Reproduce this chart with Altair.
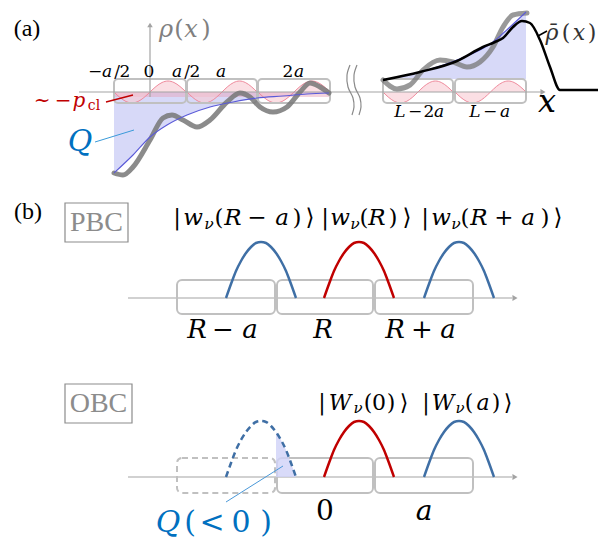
import altair as alt
import pandas as pd

W, H = 591, 534
XS = alt.Scale(domain=[8, 599], nice=False, zero=False)
YS = alt.Scale(domain=[8, 542], nice=False, zero=False, reverse=True)
MATH = "DejaVu Serif"
SERIF = "Liberation Serif"

AX_GRAY = "#a3a3a3"
BOX_GRAY = "#c0c0c0"
RED = "#c00000"
WBLUE = "#3f6fa5"
QBLUE = "#0070c0"
FILL_BLUE = "#c9ccf6"
PINK_LINE = "#ef8a9c"
PINK_FILL = "#f9c9d2"

# ---------------- panel (a) data ----------------
AXIS_A_Y = 92
AXIS_A_X = [79, 541]
RHO_AXIS_X = 150
RHO_AXIS_Y = [97, 27]
CELLS_A_X0 = [114, 187, 258, 383, 455]
CELLS_A_X1 = [186, 257, 330, 453, 526]
CELL_A_TOP, CELL_A_BOT = 79, 103
# one oscillation per cell: position fraction and displacement (px, + = downwards)
OSC_F = [0, 0.083, 0.167, 0.25, 0.333, 0.417, 0.5, 0.583, 0.667, 0.75, 0.833, 0.917, 1]
OSC_D = [0, 5.5, 9.5, 11, 9.5, 5.5, 0, -5.5, -9.5, -11, -9.5, -5.5, 0]
PCL_BAND = [114, 330, 92, 97]

RHO_L_X = [114, 123, 133, 150, 163, 172, 183, 197, 210, 227, 240, 250, 260, 273, 287, 300, 310, 320, 329]
RHO_L_Y = [173, 175, 167, 140, 118, 115, 120, 127, 120, 102, 93, 97, 107, 112, 107, 92, 83, 87, 93]
ENV_L_X = [114, 133, 150, 167, 187, 210, 233, 257, 283, 307, 329]
ENV_L_Y = [173, 155, 137, 125, 115, 107, 102, 98, 96, 94, 93]

RHO_R_X = [383, 397, 410, 423, 440, 453, 467, 480, 493, 503, 513, 527]
RHO_R_Y = [80, 89, 85, 70, 60, 62, 67, 62, 47, 27, 15, 13]
ENV_R_X = [383, 420, 457, 493, 510, 526]
ENV_R_Y = [80, 72, 60, 42, 27, 12]
ENV_R_BASE = 79
BAR_X = [383, 420, 457, 483, 495, 503, 513, 522, 530, 540, 550, 560, 598]
BAR_Y = [80, 72, 61, 47, 42, 38, 27, 21, 23, 40, 67, 90, 90]

BREAK_X = [350, 347, 348, 353, 354, 352]
BREAK_Y = [65, 75, 87, 98, 107, 115]
BREAK_SHIFT = [0, 7]

# ---------------- panel (b) data ----------------
AXIS_PBC_Y = 298
AXIS_OBC_Y = 477
AXIS_B_X = [128, 512]
CELLS_B_X0 = [177, 277, 375]
CELLS_B_X1 = [275, 373, 473]
CELL_PBC = [280, 314]
CELL_OBC = [458, 493]
ARCH_DX = [0, 5, 10, 15, 20, 25, 30, 35, 40, 45, 50, 55, 60, 65, 70]
ARCH_H = [0, 14, 27, 37, 45, 51, 55, 56, 55, 51, 45, 37, 27, 14, 0]
ARCH_X0 = [226, 324, 424]
ARCH_COL = [WBLUE, RED, WBLUE]

# ---------------- text ----------------
# (glyph, x, kind) kind: n normal, i italic, s subscript italic
LAB_RHO = [("ρ", 166, "i"), ("(", 179, "n"), ("x", 191, "i"), (")", 206, "n")]
LAB_TICKS = [("−", 95, "n"), ("a", 107, "i"), ("/", 117, "n"), ("2", 125, "n"), ("0", 149, "n"),
             ("a", 177, "i"), ("/", 187, "n"), ("2", 195, "n"), ("a", 221, "i"), ("2", 288, "n"), ("a", 299, "i")]
LAB_TICKS_R = [("L", 400, "i"), ("−", 415, "n"), ("2", 429, "n"), ("a", 439, "i"),
               ("L", 475, "i"), ("−", 490, "n"), ("a", 505, "i")]
LAB_BAR = [("ρ̄", 552, "i"), ("(", 566, "n"), ("x", 579, "i"), (")", 592, "n")]
LAB_PCL = [("~", 42, "n"), ("−", 63, "n"), ("p", 79, "i")]
LAB_W1 = [("|", 177, "n"), ("w", 193, "i"), ("ν", 209, "s"), ("(", 219, "n"), ("R", 233, "i"),
          ("−", 257, "n"), ("a", 282, "i"), (")", 297, "n"), ("⟩", 310, "n")]
LAB_W2 = [("|", 325, "n"), ("w", 340, "i"), ("ν", 355, "s"), ("(", 364, "n"), ("R", 377, "i"),
          (")", 393, "n"), ("⟩", 407, "n")]
LAB_W3 = [("|", 425, "n"), ("w", 441, "i"), ("ν", 456, "s"), ("(", 465, "n"), ("R", 479, "i"),
          ("+", 504, "n"), ("a", 528, "i"), (")", 545, "n"), ("⟩", 558, "n")]
LAB_PBC_BOT = [("R", 197, "i"), ("−", 223, "n"), ("a", 250, "i"), ("R", 323, "i"),
               ("R", 395, "i"), ("+", 422, "n"), ("a", 448, "i")]
LAB_V1 = [("|", 322, "n"), ("W", 340, "i"), ("ν", 358, "s"), ("(", 368, "n"), ("0", 379, "n"),
          (")", 391, "n"), ("⟩", 404, "n")]
LAB_V2 = [("|", 426, "n"), ("W", 443, "i"), ("ν", 460, "s"), ("(", 469, "n"), ("a", 483, "i"),
          (")", 496, "n"), ("⟩", 508, "n")]
LAB_OBC_BOT = [("0", 325, "n"), ("a", 424, "i")]
LAB_Q0 = [("Q", 168, "i"), ("(", 190, "n"), ("<", 212, "n"), ("0", 241, "n"), (")", 266, "n")]


def X(f="x"):
    return alt.X(f"{f}:Q", scale=XS, axis=None)


def Y(f="y"):
    return alt.Y(f"{f}:Q", scale=YS, axis=None)


layers = []


def line(xs, ys, color, width, dash=None, interp="monotone", opacity=1.0, ordered=False, cap="butt"):
    df = pd.DataFrame({"x": xs, "y": ys, "i": list(range(len(xs)))})
    kw = dict(color=color, strokeWidth=width, interpolate=interp, opacity=opacity, strokeCap=cap)
    if dash:
        kw["strokeDash"] = dash
    enc = dict(x=X(), y=Y())
    if ordered:
        enc["order"] = alt.Order("i:Q")
    layers.append(alt.Chart(df).mark_line(**kw).encode(**enc))


def area(xs, ys, y2s, color, opacity, interp="monotone"):
    df = pd.DataFrame({"x": xs, "y": ys, "y2": y2s})
    layers.append(alt.Chart(df).mark_area(color=color, opacity=opacity, interpolate=interp)
                  .encode(x=X(), y=Y(), y2=alt.Y2("y2:Q")))


def rects(x0, x1, y0, y1, stroke, width, dash=None, radius=4, fill="white", fillop=0.0):
    df = pd.DataFrame({"x": x0, "x2": x1, "y": y0, "y2": y1})
    kw = dict(fill=fill, fillOpacity=fillop, stroke=stroke, strokeWidth=width, cornerRadius=radius)
    if dash:
        kw["strokeDash"] = dash
    layers.append(alt.Chart(df).mark_rect(**kw)
                  .encode(x=X(), x2=alt.X2("x2:Q"), y=Y(), y2=alt.Y2("y2:Q")))


def arrow(x, y, shape, size=40):
    df = pd.DataFrame({"x": [x], "y": [y]})
    layers.append(alt.Chart(df).mark_point(shape=shape, filled=True, size=size, color=AX_GRAY, opacity=1)
                  .encode(x=X(), y=Y()))


glyph_rows = []


def label(glyphs, y, size, color, font=MATH, sub_dy=6):
    for g, x, k in glyphs:
        if k == "s":
            glyph_rows.append(dict(t=g, x=x, y=y + sub_dy, sz=size * 0.68, col=color, font=font, it=True))
        else:
            glyph_rows.append(dict(t=g, x=x, y=y, sz=size, col=color, font=font, it=(k == "i")))


# ---------- panel (a) ----------
area(ENV_L_X, ENV_L_Y, [AXIS_A_Y] * len(ENV_L_X), FILL_BLUE, 0.75)
area(ENV_R_X, ENV_R_Y, [ENV_R_BASE] * len(ENV_R_X), FILL_BLUE, 0.75)
rects([PCL_BAND[0]], [PCL_BAND[1]], [PCL_BAND[2]], [PCL_BAND[3]], "white", 0, radius=0,
      fill="#e7a0b6", fillop=0.45)
for x0, x1 in zip(CELLS_A_X0, CELLS_A_X1):
    xs = [x0 + f * (x1 - x0) for f in OSC_F]
    ys = [AXIS_A_Y + d for d in OSC_D]
    area(xs, ys, [AXIS_A_Y] * len(xs), PINK_FILL, 0.6)
    line(xs, ys, PINK_LINE, 1.0)
rects(CELLS_A_X0, CELLS_A_X1, [CELL_A_TOP] * 5, [CELL_A_BOT] * 5, BOX_GRAY, 2)
line(AXIS_A_X, [AXIS_A_Y, AXIS_A_Y], AX_GRAY, 1.2, interp="linear")
arrow(AXIS_A_X[1] + 2, AXIS_A_Y, "triangle-right", 35)
line([RHO_AXIS_X, RHO_AXIS_X], RHO_AXIS_Y, AX_GRAY, 1.2, interp="linear", ordered=True)
arrow(RHO_AXIS_X, RHO_AXIS_Y[1] - 2, "triangle-up", 30)
line(RHO_L_X, RHO_L_Y, "#777777", 5, opacity=0.85, cap="round")
line(RHO_R_X, RHO_R_Y, "#777777", 5, opacity=0.75, cap="round")
line(ENV_L_X, ENV_L_Y, "#5a5ad8", 1.1)
line(ENV_R_X, ENV_R_Y, "#5a5ad8", 1.1)
line(BAR_X, BAR_Y, "#000000", 2.5)
for s in BREAK_SHIFT:
    line([x + s for x in BREAK_X], BREAK_Y, "#8a8a8a", 1.2, interp="catmull-rom", ordered=True)
# pointers
line([106, 133], [102, 95], RED, 1.3, interp="linear")
line([95, 134], [142, 130], "#3a9ad9", 1.0, interp="linear")
line([538, 547], [36, 31], "#000000", 1.5, interp="linear")

glyph_rows.append(dict(t="(a)", x=27, y=29, sz=24, col="#000000", font=SERIF, it=False))
label(LAB_RHO, 30, 24, "#808080")
label(LAB_TICKS, 72, 17, "#000000")
label(LAB_TICKS_R, 112, 17, "#000000")
glyph_rows.append(dict(t="x", x=547, y=102, sz=32, col="#000000", font=MATH, it=True))
label(LAB_BAR, 33, 22, "#333333")
label(LAB_PCL, 101, 20, RED)
glyph_rows.append(dict(t="cl", x=94, y=106, sz=14, col=RED, font=MATH, it=False))
glyph_rows.append(dict(t="Q", x=80, y=142, sz=30, col=QBLUE, font=MATH, it=True))

# ---------- panel (b) ----------
glyph_rows.append(dict(t="(b)", x=28, y=212, sz=24, col="#000000", font=SERIF, it=False))
rects([65], [128], [203], [242], "#8c8c8c", 1.2, radius=0)
glyph_rows.append(dict(t="PBC", x=96.5, y=223, sz=28, col="#8c8c8c", font=SERIF, it=False))
rects([65], [132], [384], [423], "#8c8c8c", 1.2, radius=0)
glyph_rows.append(dict(t="OBC", x=98.5, y=404, sz=28, col="#8c8c8c", font=SERIF, it=False))

for ay, cy in ((AXIS_PBC_Y, CELL_PBC), (AXIS_OBC_Y, CELL_OBC)):
    line(AXIS_B_X, [ay, ay], AX_GRAY, 1.2, interp="linear")
    arrow(AXIS_B_X[1] + 3, ay, "triangle-right", 35)

rects(CELLS_B_X0, CELLS_B_X1, [CELL_PBC[0]] * 3, [CELL_PBC[1]] * 3, BOX_GRAY, 2, radius=5)
rects(CELLS_B_X0[1:], CELLS_B_X1[1:], [CELL_OBC[0]] * 2, [CELL_OBC[1]] * 2, BOX_GRAY, 2, radius=5)
rects(CELLS_B_X0[:1], CELLS_B_X1[:1], [CELL_OBC[0]], [CELL_OBC[1]], BOX_GRAY, 2, dash=[6, 4], radius=5)

# Q(<0) shaded part of the dashed Wannier function
qx = [ARCH_X0[0] + d for d, h in zip(ARCH_DX, ARCH_H) if d >= 50]
qy = [AXIS_OBC_Y - h for d, h in zip(ARCH_DX, ARCH_H) if d >= 50]
area(qx, qy, [AXIS_OBC_Y] * len(qx), "#cfd2f7", 0.8)

for x0, col in zip(ARCH_X0, ARCH_COL):
    xs = [x0 + d for d in ARCH_DX]
    line(xs, [AXIS_PBC_Y - h for h in ARCH_H], col, 2.5)
    if x0 == ARCH_X0[0]:
        line(xs, [AXIS_OBC_Y - h for h in ARCH_H], col, 2.5, dash=[6, 4])
    else:
        line(xs, [AXIS_OBC_Y - h for h in ARCH_H], col, 2.5)

line([283, 226], [466, 502], "#4a98d8", 1.0, interp="linear")

label(LAB_W1, 218, 23, "#000000")
label(LAB_W2, 218, 23, "#000000")
label(LAB_W3, 218, 23, "#000000")
label(LAB_PBC_BOT, 330, 26, "#000000")
label(LAB_V1, 403, 22, "#000000")
label(LAB_V2, 403, 22, "#000000")
label(LAB_OBC_BOT, 512, 28, "#000000")
label(LAB_Q0, 523, 30, QBLUE)

gdf = pd.DataFrame(glyph_rows)
for font in (MATH, SERIF):
    for it in (True, False):
        sub = gdf[(gdf.font == font) & (gdf.it == it)]
        if len(sub) == 0:
            continue
        layers.append(
            alt.Chart(sub).mark_text(font=font, fontStyle="italic" if it else "normal",
                                     align="center", baseline="middle")
            .encode(x=X(), y=Y(), text="t:N",
                    size=alt.Size("sz:Q", scale=None),
                    color=alt.Color("col:N", scale=None))
        )

chart = (alt.layer(*layers)
         .properties(width=W, height=H, padding=0, autosize="none")
         .configure_view(stroke=None))
chart.save("out.html", embed_options={"renderer": "svg", "actions": False})
